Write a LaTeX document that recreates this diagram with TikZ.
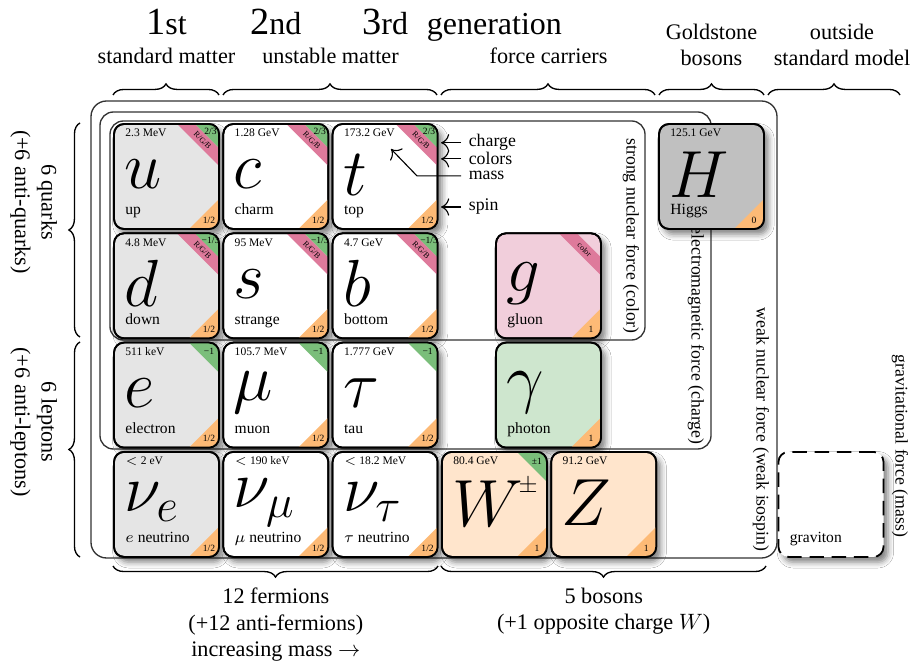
\RequirePackage{fix-cm}
\documentclass[tikz,border=0pt]{standalone}
\usepackage{fontspec}
\setmainfont{Liberation Serif}
\usepackage{tikz}
\usetikzlibrary{arrows.meta,positioning,calc,decorations.pathreplacing,shadows.blur}
\definecolor{chargeGreen}{RGB}{122,190,122}
\definecolor{colorPink}{RGB}{222,122,155}
\definecolor{spinOrange}{RGB}{253,186,118}
\definecolor{gluonPink}{RGB}{241,206,219}
\definecolor{photonGreen}{RGB}{206,230,206}
\definecolor{bosonOrange}{RGB}{255,229,204}
\definecolor{higgsGray}{RGB}{192,192,192}
\colorlet{firstGen}{black!10}
\colorlet{boxLine}{black!80}

\tikzset{
  card/.style={draw=black,line width=0.8pt,rounded corners=4.5pt,inner sep=0pt,outer sep=0pt,
    minimum width=47.25pt,minimum height=47.25pt,
    blur shadow={shadow xshift=2pt,shadow yshift=-2.4pt,shadow blur radius=2.6pt,shadow opacity=50}},
  gravcard/.style={card,fill=white,dash pattern=on 6.5pt off 3.5pt},
  symlbl/.style={inner sep=0pt,font=\fontsize{30}{30}\selectfont},
  namelbl/.style={inner sep=0pt,font=\fontsize{7}{8}\selectfont},
  masslbl/.style={inner sep=0pt,font=\fontsize{5.2}{6}\selectfont},
  chargelbl/.style={inner sep=0pt,font=\fontsize{4.3}{5}\selectfont},
  colorlbl/.style={inner sep=0pt,rotate=-45,font=\fontsize{3.6}{4}\selectfont},
  forcebox/.style={draw=boxLine,line width=0.6pt,rounded corners=6pt},
  forcelbl/.style={rotate=-90,font=\footnotesize,inner sep=1pt},
  grpbrace/.style={decorate,decoration={brace,amplitude=5pt},line width=0.6pt},
  grplbl/.style={align=center},
  annarrow/.style={-{To[length=1.3mm]},line width=0.5pt}
}

% name, position, fill, symbol, label, mass, charge, colors, spin
\newcommand{\particle}[9]{%
  \node[card,fill=#3] (#1) at #2 {};
  \begin{scope}
    \clip[rounded corners=4.5pt] (#1.south west) rectangle (#1.north east);
    \ifx\relax#8\relax
      \ifx\relax#7\relax\else
        \fill[chargeGreen] (#1.north east) -- ++(-30,0) -- ++(30,-30) -- cycle;
      \fi
      \node[chargelbl] (#1charge) at ($(#1.north east)+(-10,-9)$) {#7};
    \else
      \fill[colorPink] (#1.north east) ++(-42,0) -- ++(18,0) -- ++(24,-24) -- ++(0,-18) -- cycle;
      \ifx\relax#7\relax\else
        \fill[chargeGreen] (#1.north east) -- ++(-24,0) -- ++(24,-24) -- cycle;
      \fi
      \node[chargelbl] (#1charge) at ($(#1.north east)+(-8.5,-7.5)$) {#7};
    \fi
    \fill[spinOrange] (#1.south east) -- ++(-30,0) -- ++(30,30) -- cycle;
  \end{scope}
  \draw[line width=0.8pt,rounded corners=4.5pt] (#1.south west) rectangle (#1.north east);
  \node[symlbl,anchor=west] (#1sym) at ($(#1.west)+(10,2)$) {$#4$};
  \node[masslbl,anchor=base west] (#1mass) at ($(#1.north west)+(11,-13)$) {#6};
  \node[namelbl,anchor=base west] (#1name) at ($(#1.south west)+(11,14)$) {#5};
  \node[colorlbl] (#1colors) at ($(#1.north east)+(-16.5,-16.5)$) {#8};
  \node[chargelbl] (#1spin) at ($(#1.south east)+(-10,9)$) {#9};
}

\begin{document}
\begin{tikzpicture}[x=0.45pt,y=0.45pt]
  \useasboundingbox[fill=white] (0,0) rectangle (915,666);

  % force boxes
  \draw[forcebox,rounded corners=7pt] (91,108) rectangle (777,565);
  \draw[forcebox] (100,217) rectangle (711,554);
  \draw[forcebox] (110,326) rectangle (645,545);
  \node[forcelbl,anchor=east] (strongforce) at (631,330) {strong nuclear force (color)};
  \node[forcelbl,anchor=east] (emforce) at (696,219) {electromagnetic force (charge)};
  \node[forcelbl,anchor=east] (weakforce) at (761,112) {weak nuclear force (weak isospin)};
  \node[forcelbl,anchor=east] (gravforce) at (900,126) {gravitational force (mass)};

  % headers
  \node[anchor=base] (gen1) at (166.5,631) {{\LARGE 1}{\Large st}};
  \node[anchor=base] (gen2) at (275.8,631) {{\LARGE 2}{\Large nd}};
  \node[anchor=base] (gen3) at (385.1,631) {{\LARGE 3}{\Large rd}};
  \node[anchor=base] (genword) at (494.4,631) {\Large generation};
  \node[anchor=base] (stdmatter) at (166.5,602) {standard matter};
  \node[anchor=base] (unstmatter) at (330.5,602) {unstable matter};
  \node[anchor=base] (carriers) at (548.5,602) {force carriers};
  \node[grplbl,anchor=north] (goldstone) at (711.5,650) {Goldstone\\bosons};
  \node[grplbl,anchor=north] (outside) at (842,650) {outside\\standard model};
  \foreach \a/\b in {113/219,223/437,441/655,659/764,768/900}
    \draw[grpbrace] (\a,571) -- (\b,571);

  % side and bottom groups
  \draw[grpbrace] (80,329) -- (80,543);
  \draw[grpbrace] (80,109) -- (80,324);
  \node[grplbl,rotate=-90,anchor=north] (quarks) at (65,464) {6 quarks\\(+6 anti-quarks)};
  \node[grplbl,rotate=-90,anchor=north] (leptons) at (65,244) {6 leptons\\(+6 anti-leptons)};
  \draw[grpbrace] (438,100) -- (113,100);
  \draw[grpbrace] (766,100) -- (441,100);
  \node[grplbl,anchor=north] (fermions) at (275.8,86) {12 fermions\\(+12 anti-fermions)\\increasing mass $\rightarrow$};
  \node[grplbl,anchor=north] (bosons) at (603.7,86) {5 bosons\\(+1 opposite charge $W$)};

  % particles
  \particle{u}{(166.5,489.5)}{firstGen}{u}{up}{2.3 MeV}{2/3}{R/G/B}{1/2}
  \particle{c}{(275.8,489.5)}{white}{c}{charm}{1.28 GeV}{2/3}{R/G/B}{1/2}
  \particle{t}{(385.1,489.5)}{white}{t}{top}{173.2 GeV}{2/3}{R/G/B}{1/2}
  \particle{d}{(166.5,380.2)}{firstGen}{d}{down}{4.8 MeV}{−1/3}{R/G/B}{1/2}
  \particle{s}{(275.8,380.2)}{white}{s}{strange}{95 MeV}{−1/3}{R/G/B}{1/2}
  \particle{b}{(385.1,380.2)}{white}{b}{bottom}{4.7 GeV}{−1/3}{R/G/B}{1/2}
  \particle{e}{(166.5,270.9)}{firstGen}{e}{electron}{511 keV}{−1}{}{1/2}
  \particle{mu}{(275.8,270.9)}{white}{\mu}{muon}{105.7 MeV}{−1}{}{1/2}
  \particle{tau}{(385.1,270.9)}{white}{\tau}{tau}{1.777 GeV}{−1}{}{1/2}
  \particle{nue}{(166.5,161.6)}{firstGen}{\nu_e}{$e$ neutrino}{$<$ 2 eV}{}{}{1/2}
  \particle{numu}{(275.8,161.6)}{white}{\nu_\mu}{$\mu$ neutrino}{$<$ 190 keV}{}{}{1/2}
  \particle{nutau}{(385.1,161.6)}{white}{\nu_\tau}{$\tau$ neutrino}{$<$ 18.2 MeV}{}{}{1/2}
  \particle{g}{(548.5,380.2)}{gluonPink}{g}{gluon}{}{}{color}{1}
  \particle{gamma}{(548.5,270.9)}{photonGreen}{\gamma}{photon}{}{}{}{1}
  \particle{W}{(494.4,161.6)}{bosonOrange}{W\kern-2pt\raisebox{15pt}{\fontsize{11}{11}\selectfont$\pm$}}{}{80.4 GeV}{±1}{}{1}
  \particle{Z}{(603.7,161.6)}{bosonOrange}{Z}{}{91.2 GeV}{}{}{1}
  \particle{H}{(711.5,489.5)}{higgsGray}{H}{Higgs}{125.1 GeV}{}{}{0}
  \node[gravcard] (grav) at (831,161.6) {};
  \node[namelbl,anchor=base west] (gravname) at ($(grav.south west)+(11,14)$) {graviton};

  % legend on the top card
  \coordinate (tedge) at (441,0);
  \coordinate (massbend) at (417,0);
  \coordinate (massptr) at (391,517);
  \node[font=\footnotesize,anchor=base west] (anncharge) at (461,519) {charge};
  \node[font=\footnotesize,anchor=base west] (anncolors) at (461,501) {colors};
  \node[font=\footnotesize,anchor=base west] (annmass) at (461,486) {mass};
  \node[font=\footnotesize,anchor=base west] (annspin) at (461,455) {spin};
  \draw[annarrow] (anncharge.west) -- (anncharge.west -| tedge);
  \draw[annarrow] (anncolors.west) -- (anncolors.west -| tedge);
  \draw[annarrow] (annmass.west) -- (annmass.west -| massbend) -- (massptr);
  \draw[annarrow] (annspin.west) -- (annspin.west -| tedge);
\end{tikzpicture}
\end{document}
